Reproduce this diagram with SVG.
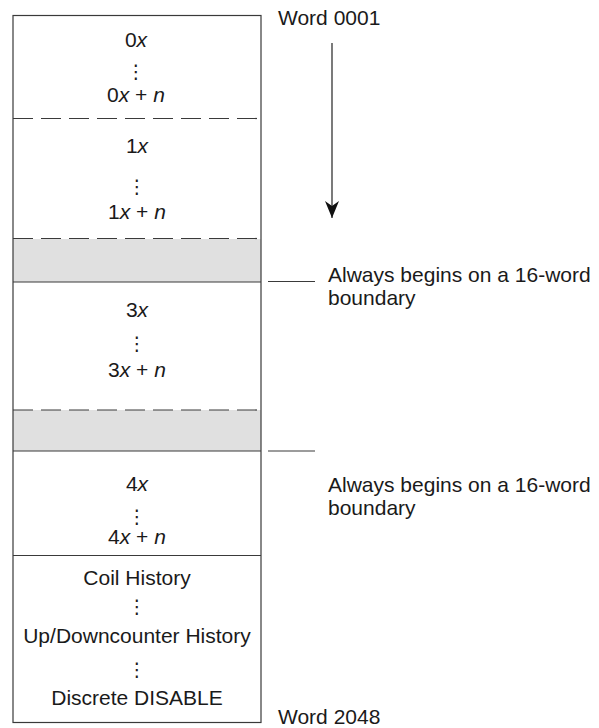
<svg xmlns="http://www.w3.org/2000/svg" width="599" height="728" viewBox="0 0 599 728">
<style>
.t{font-family:"Liberation Sans",Arial,sans-serif;font-size:21px;fill:#1a1a1a}
.c{text-anchor:middle}
.i{font-style:italic}
.d{font-family:"DejaVu Sans",sans-serif;font-size:19px;fill:#1a1a1a;text-anchor:middle}
.ln{stroke:#3a3a3a;stroke-width:1.2;fill:none}
.dash{stroke:#3a3a3a;stroke-width:1.2;fill:none;stroke-dasharray:20 8}
.gray{fill:#e0e0e0;stroke:none}
</style>
<defs>
<marker id="ah" markerWidth="18" markerHeight="14" refX="17" refY="7" orient="auto" markerUnits="userSpaceOnUse">
<path d="M0,0 L5,7 L0,14 L17,7 Z" fill="#111"/>
</marker>
</defs>
<rect width="599" height="728" fill="#fff"/>
<g id="block0">
<text class="t c" x="136" y="46.5">0<tspan class="i">x</tspan></text>
<text class="d" x="136" y="78">⋮</text>
<text class="t c" x="136" y="101.5">0<tspan class="i">x</tspan> + <tspan class="i">n</tspan></text>
</g>
<g id="block1">
<text class="t c" x="137" y="153">1<tspan class="i">x</tspan></text>
<text class="d" x="137" y="193">⋮</text>
<text class="t c" x="137" y="219">1<tspan class="i">x</tspan> + <tspan class="i">n</tspan></text>
</g>
<g id="gap1"><rect class="gray" x="13" y="239" width="248" height="43"/></g>
<g id="block3">
<text class="t c" x="137" y="316.5">3<tspan class="i">x</tspan></text>
<text class="d" x="137" y="350">⋮</text>
<text class="t c" x="137" y="376.5">3<tspan class="i">x</tspan> + <tspan class="i">n</tspan></text>
</g>
<g id="gap2"><rect class="gray" x="13" y="410" width="248" height="41"/></g>
<g id="block4">
<text class="t c" x="137" y="490.5">4<tspan class="i">x</tspan></text>
<text class="d" x="137" y="523">⋮</text>
<text class="t c" x="137" y="544">4<tspan class="i">x</tspan> + <tspan class="i">n</tspan></text>
</g>
<g id="history">
<text class="t c" x="137" y="585">Coil History</text>
<text class="d" x="137" y="613">⋮</text>
<text class="t c" x="137" y="643">Up/Downcounter History</text>
<text class="d" x="137" y="676">⋮</text>
<text class="t c" x="137" y="705">Discrete DISABLE</text>
</g>
<g id="frame">
<rect class="ln" x="13" y="15.5" width="248" height="707"/>
<line class="dash" x1="13" y1="118.5" x2="261" y2="118.5"/>
<line class="dash" x1="13" y1="238.5" x2="261" y2="238.5"/>
<line class="ln" x1="13" y1="282" x2="261" y2="282"/>
<line class="dash" x1="13" y1="410" x2="261" y2="410"/>
<line class="ln" x1="13" y1="451" x2="261" y2="451"/>
<line class="ln" x1="13" y1="555.5" x2="261" y2="555.5"/>
</g>
<g id="labels">
<text class="t" x="278" y="25">Word 0001</text>
<text class="t" x="328" y="281.5">Always begins on a 16-word</text>
<text class="t" x="328" y="304.5">boundary</text>
<text class="t" x="328" y="492">Always begins on a 16-word</text>
<text class="t" x="328" y="515">boundary</text>
<text class="t" x="278" y="724">Word 2048</text>
</g>
<g id="connectors">
<line x1="332" y1="43" x2="332" y2="218" stroke="#222" stroke-width="1.2" marker-end="url(#ah)"/>
<line class="ln" x1="268" y1="281.5" x2="315" y2="281.5"/>
<line class="ln" x1="268" y1="451" x2="315" y2="451"/>
</g>
</svg>
